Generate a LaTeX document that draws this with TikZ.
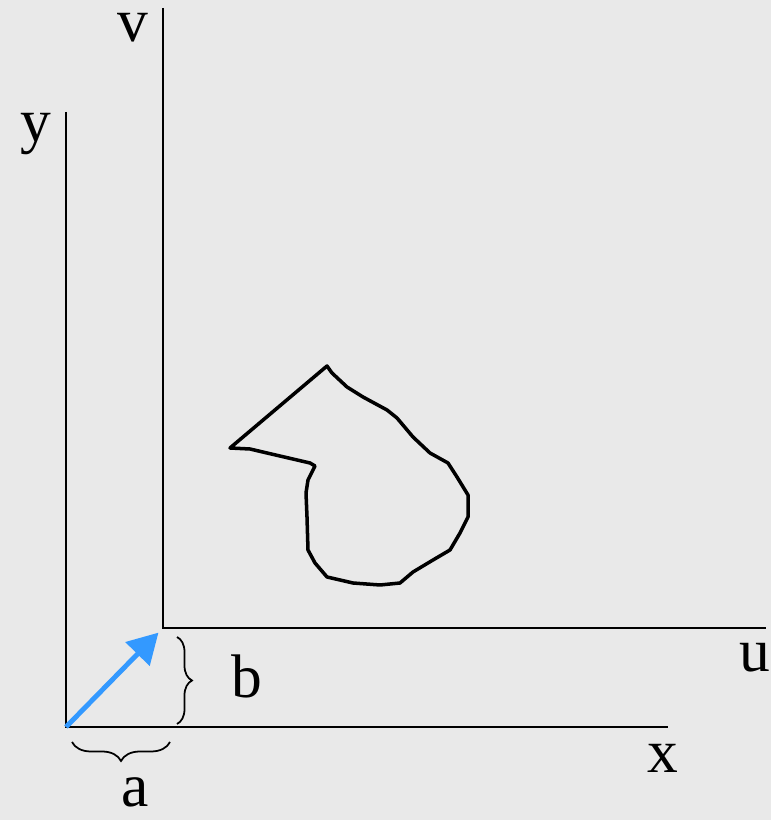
\documentclass[tikz,border=0pt]{standalone}
\usepackage{fontspec}
\setmainfont{Liberation Serif}
\usetikzlibrary{arrows.meta, decorations.pathreplacing}
\definecolor{cbg}{HTML}{E9E9E9}
\definecolor{cblue}{HTML}{3399FF}
\tikzset{
  every picture/.style={x=0.02cm, y=0.02cm},
  axis/.style={draw=black, line width=1.3pt},
  outline/.style={draw=black, line width=2pt, line join=round},
  shiftarrow/.style={draw=cblue, line width=2.8pt, -{Triangle[length=0.6cm, width=0.66cm]}, shorten >=0.13cm},
  bracket/.style={draw=black, line width=1pt, decorate, decoration={brace, amplitude=#1}},
  lbl/.style={font=\fontsize{35}{35}\selectfont, anchor=base, inner sep=0pt},
}

\begin{document}
\begin{tikzpicture}
  \fill[cbg] (0,0) rectangle (771,820);
  \useasboundingbox (0,0) rectangle (771,820);

  % old frame x-y and shifted frame u-v
  \coordinate (o) at (66,93);
  \coordinate (xend) at (668,93);
  \coordinate (yend) at (66,708);
  \coordinate (op) at (163,192);
  \coordinate (uend) at (766,192);
  \coordinate (vend) at (163,812);
  \draw[axis] (yend) -- (o) -- (xend);
  \draw[axis] (vend) -- (op) -- (uend);

  \node[lbl] (ly) at (36,678) {y};
  \node[lbl] (lx) at (663,47) {x};
  \node[lbl] (lv) at (133,778) {v};
  \node[lbl, anchor=base west] (lu) at (739,148) {u};

  % translation vector
  \draw[shiftarrow] (o) -- (op);

  % offsets a and b
  \coordinate (ar) at (170,78);
  \coordinate (al) at (72,78);
  \coordinate (bt) at (177,183);
  \coordinate (bb) at (177,96);
  \draw[bracket=0.38cm] (ar) -- (al);
  \draw[bracket=0.3cm] (bt) -- (bb);
  \node[lbl] (la) at (135,13) {a};
  \node[lbl] (lb) at (247,122) {b};

  % the object
  \draw[outline] (327,454) -- (332,447) -- (347,433) -- (363,423) -- (387,410)
    -- (397,402) -- (413,383) -- (430,367) -- (448,357) -- (457,343)
    -- (468,325) -- (468,303) -- (460,287) -- (450,270) -- (433,260)
    -- (413,248) -- (400,237) -- (380,235) -- (353,237) -- (327,243)
    -- (315,257) -- (308,270) -- (307,303) -- (306,327) -- (308,340)
    -- (315,354) -- (310,357) -- (267,367) -- (250,371) -- (230,372) -- cycle;
\end{tikzpicture}
\end{document}
